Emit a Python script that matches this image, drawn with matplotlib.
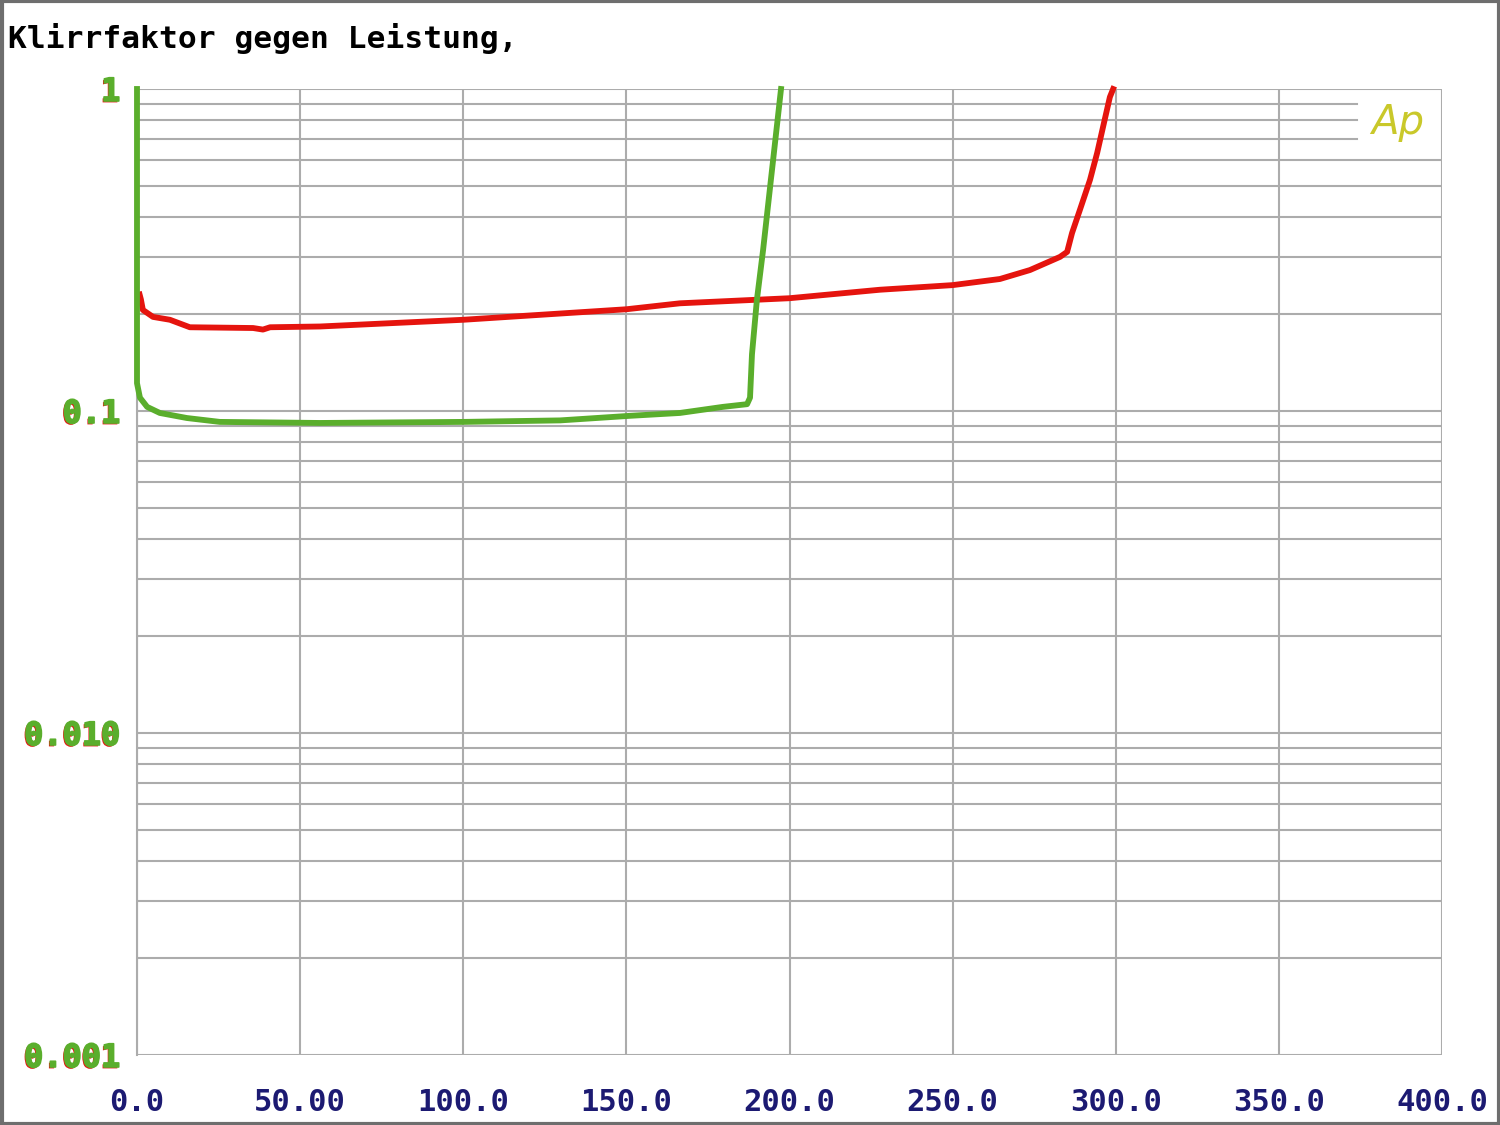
import matplotlib
matplotlib.use('Agg')
import matplotlib.pyplot as plt
import matplotlib.patheffects as pe
from matplotlib.patches import Rectangle

# distortion vs. power
green_x = [0, 0, 0.9, 3.1, 7.0, 15.3, 25.4, 56, 100, 129.7, 151, 166.4, 179.6, 187,
           187.9, 188.5, 190.0, 191.9, 197.4]
green_y = [1.0, 0.122, 0.110, 0.103, 0.0986, 0.0951, 0.0925, 0.0918, 0.0925, 0.0935,
           0.0966, 0.0986, 0.103, 0.105, 0.110, 0.150, 0.221, 0.316, 1.0]

red_x = [0.8, 1.2, 1.8, 4.9, 10.1, 16.2, 35.6, 38.6, 40.8, 56.1, 100, 150, 166.4,
         200, 227.7, 250, 264.5, 273.7, 282.9, 285.1, 286.6, 289.0, 292.1, 294.3,
         296.1, 298.2, 299.2]
red_y = [0.230, 0.222, 0.206, 0.196, 0.192, 0.182, 0.181, 0.179, 0.182, 0.183, 0.192,
         0.207, 0.216, 0.224, 0.238, 0.246, 0.257, 0.274, 0.301, 0.312, 0.357, 0.421,
         0.522, 0.633, 0.762, 0.944, 1.0]

x_ticks = [0, 50, 100, 150, 200, 250, 300, 350, 400]
x_labels = ['0.0', '50.00', '100.0', '150.0', '200.0', '250.0', '300.0', '350.0', '400.0']
y_ticks = [0.001, 0.01, 0.1, 1]
y_labels = ['0.001', '0.010', '0.1', '1']

GREEN = '#5aae2c'
RED = '#e5140e'
GRID = '#acacac'
NAVY = '#1c1a72'

fig = plt.figure(figsize=(15, 11.25), dpi=100)
ax = fig.add_axes([137 / 1500, 1 - 1055 / 1125, 1305 / 1500, 966 / 1125])
ax.set_yscale('log')
ax.set_xlim(0, 400)
ax.set_ylim(0.001, 1)

# grid: vertical every 50, horizontal at 1..9 per decade
for xv in x_ticks:
    ax.axvline(xv, color=GRID, lw=1.5, zorder=1)
for dec in [0.001, 0.01, 0.1]:
    for k in range(1, 10):
        xmax = 1.0
        # top lines stop short to leave room for the logo
        if dec == 0.1 and k >= 7:
            xmax = (1357 - 137) / 1305
        ax.axhline(dec * k, xmin=0, xmax=xmax, color=GRID, lw=1.5, zorder=1)
ax.axhline(1, color=GRID, lw=1.5, zorder=1)

ax.plot(red_x, red_y, color=RED, lw=4.2, zorder=3, clip_on=False)
ax.plot(green_x, green_y, color=GREEN, lw=4.2, zorder=4, clip_on=False)

for s in ax.spines.values():
    s.set_visible(False)
ax.spines['left'].set_visible(True)
ax.spines['left'].set_color(GRID)
ax.spines['left'].set_linewidth(1.5)

ax.set_xticks(x_ticks)
ax.set_xticklabels(x_labels, family='DejaVu Sans Mono', weight='bold', fontsize=22, color=NAVY)
ax.set_yticks(y_ticks)
ax.set_yticklabels(y_labels, family='DejaVu Sans Mono', weight='bold', fontsize=23, color=GREEN)
ax.yaxis.set_minor_locator(matplotlib.ticker.NullLocator())
ax.tick_params(axis='x', length=0, pad=24)
ax.tick_params(axis='y', length=0, pad=12)
for lab in ax.get_yticklabels():
    lab.set_path_effects([pe.withSimplePatchShadow(offset=(-1.0, -1.0), shadow_rgbFace=RED, alpha=1.0),
                          pe.Stroke(linewidth=1.2, foreground=GREEN), pe.Normal()])

fig.text(8 / 1500, 1 - 39 / 1125, 'Klirrfaktor gegen Leistung,', family='DejaVu Sans Mono',
         weight='bold', fontsize=22.5, color='black', va='center', ha='left')

fig.text(1398 / 1500, 1 - 122 / 1125, 'Ap', fontsize=29, style='italic', weight='light',
         color='#c9c82a', ha='center', va='center')

fig.patches.append(Rectangle((0.001, 0.001), 0.998, 0.998, transform=fig.transFigure,
                             fill=False, edgecolor='#6e6e6e', lw=3))

fig.savefig('out.png', dpi=100)
